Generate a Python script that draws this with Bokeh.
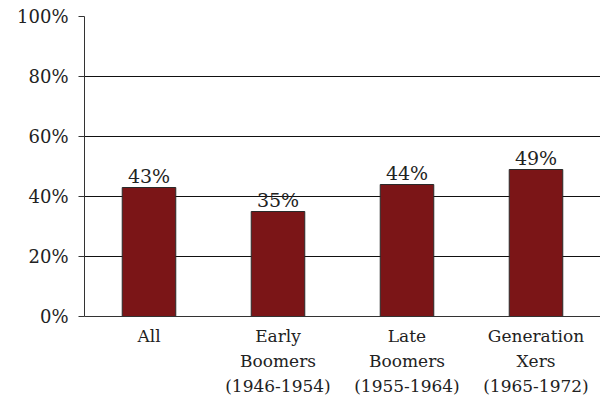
from bokeh.plotting import figure
from bokeh.models import ColumnDataSource, FixedTicker, FactorRange, Range1d
from bokeh.core.properties import value
from bokeh.embed import file_html
from bokeh.resources import INLINE

categories = ["All", "Early\nBoomers\n(1946-1954)", "Late\nBoomers\n(1955-1964)", "Generation\nXers\n(1965-1972)"]
values = [43, 35, 44, 49]
labels = ["43%", "35%", "44%", "49%"]
y_ticks = [0, 20, 40, 60, 80, 100]
y_tick_labels = ["0%", "20%", "40%", "60%", "80%", "100%"]

FONT = "'DejaVu Serif', serif"

src = ColumnDataSource(dict(cat=categories, val=values, lab=labels))

p = figure(frame_width=516, frame_height=300, x_range=FactorRange(*categories, range_padding=0),
           y_range=Range1d(0, 100), output_backend="svg", toolbar_location=None,
           min_border_left=84, min_border_right=0, min_border_top=16, min_border_bottom=10)
p.outline_line_color = None
p.background_fill_color = "white"

p.vbar(x="cat", top="val", width=0.415, source=src, fill_color="#7B1517",
       line_color="#2a2a2a", line_width=1)
p.text(x="cat", y="val", text="lab", source=src, text_align="center",
       text_baseline="bottom", y_offset=-1, text_font=value(FONT),
       text_font_size="19px", text_color="#222222")

p.yaxis.ticker = FixedTicker(ticks=y_ticks)
p.yaxis.major_label_overrides = {t: l for t, l in zip(y_ticks, y_tick_labels)}
p.yaxis.major_tick_in = 0
p.yaxis.major_tick_out = 6
p.yaxis.minor_tick_line_color = None
p.yaxis.axis_line_color = "#333333"
p.yaxis.major_tick_line_color = "#333333"
p.yaxis.major_label_text_font = FONT
p.yaxis.major_label_text_font_size = "18px"
p.yaxis.major_label_text_color = "#222222"
p.yaxis.major_label_standoff = 10

p.xaxis.major_tick_line_color = None
p.xaxis.minor_tick_line_color = None
p.xaxis.axis_line_color = "#333333"
p.xaxis.axis_line_width = 1
p.xaxis.major_label_text_font = FONT
p.xaxis.major_label_text_font_size = "17px"
p.xaxis.major_label_text_color = "#222222"
p.xaxis.major_label_text_line_height = 1.25
p.xaxis.major_label_standoff = 3

p.xgrid.grid_line_color = None
p.ygrid.grid_line_color = "#111111"
p.ygrid.grid_line_width = 1

open("out.html", "w").write(file_html(p, INLINE))
